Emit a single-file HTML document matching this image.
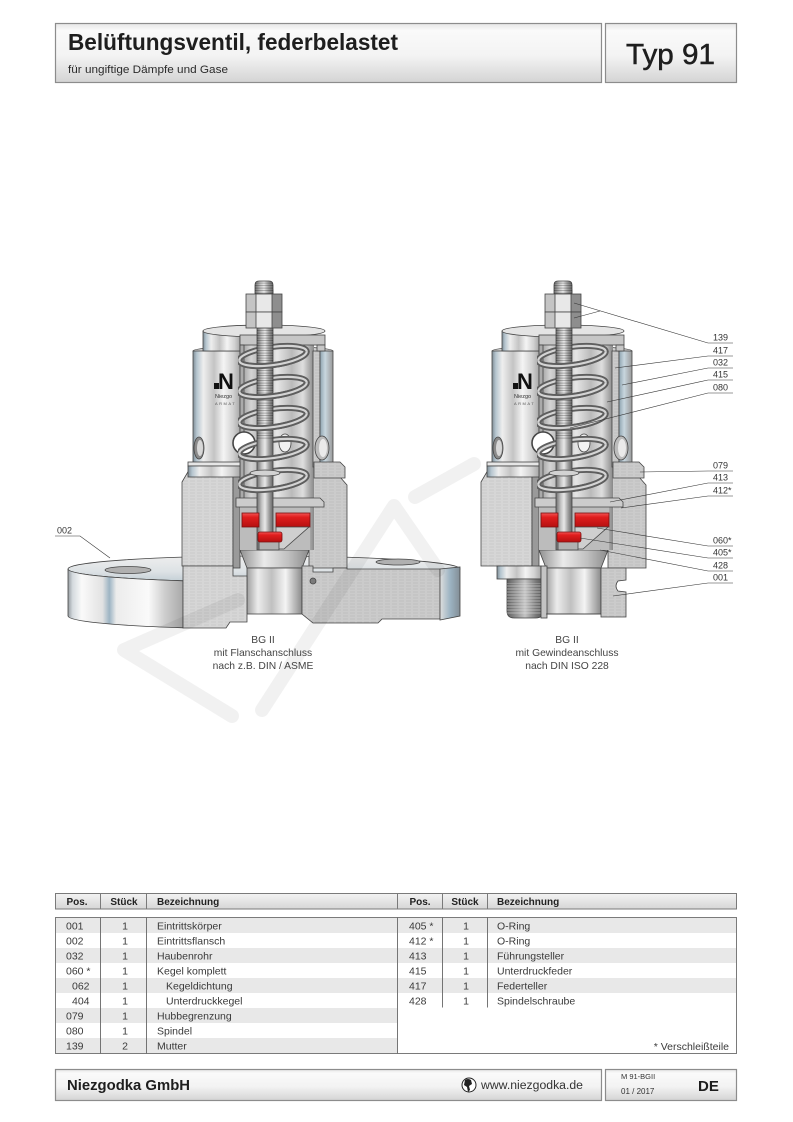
<!DOCTYPE html>
<html><head><meta charset="utf-8">
<style>
html,body{margin:0;padding:0;background:#fff;}
svg{display:block;}
text{font-family:"Liberation Sans",Arial,sans-serif;}
</style></head>
<body>
<svg width="793" height="1122" viewBox="0 0 793 1122" xmlns="http://www.w3.org/2000/svg">
<defs>
 <linearGradient id="gBox" x1="0" y1="0" x2="0" y2="1">
  <stop offset="0" stop-color="#e6e6e6"/><stop offset="0.12" stop-color="#fafafa"/>
  <stop offset="0.55" stop-color="#f3f3f3"/><stop offset="1" stop-color="#d4d4d4"/>
 </linearGradient>
 <linearGradient id="gHead" x1="0" y1="0" x2="0" y2="1">
  <stop offset="0" stop-color="#f3f3f3"/><stop offset="1" stop-color="#d6d6d6"/>
 </linearGradient>
 <linearGradient id="gCyl" x1="0" y1="0" x2="1" y2="0">
  <stop offset="0" stop-color="#7f8d96"/><stop offset="0.08" stop-color="#b5c5cf"/>
  <stop offset="0.22" stop-color="#eeeeee"/><stop offset="0.45" stop-color="#c4c4c4"/>
  <stop offset="0.65" stop-color="#f4f4f4"/><stop offset="0.85" stop-color="#d2d2d2"/>
  <stop offset="1" stop-color="#a8a8a8"/>
 </linearGradient>
 <linearGradient id="gCylR" x1="0" y1="0" x2="1" y2="0">
  <stop offset="0" stop-color="#8ea3b0"/><stop offset="0.4" stop-color="#c8d6de"/>
  <stop offset="1" stop-color="#999999"/>
 </linearGradient>
 <linearGradient id="gInner" x1="0" y1="0" x2="1" y2="0">
  <stop offset="0" stop-color="#909090"/><stop offset="0.15" stop-color="#d4d4d4"/>
  <stop offset="0.3" stop-color="#acacac"/><stop offset="0.5" stop-color="#e6e6e6"/>
  <stop offset="0.7" stop-color="#bababa"/><stop offset="0.85" stop-color="#dedede"/>
  <stop offset="1" stop-color="#888888"/>
 </linearGradient>
 <linearGradient id="gStem" x1="0" y1="0" x2="1" y2="0">
  <stop offset="0" stop-color="#6f6f6f"/><stop offset="0.3" stop-color="#c4c4c4"/>
  <stop offset="0.5" stop-color="#e8e8e8"/><stop offset="0.75" stop-color="#a0a0a0"/>
  <stop offset="1" stop-color="#666666"/>
 </linearGradient>
 <linearGradient id="gRed" x1="0" y1="0" x2="0" y2="1">
  <stop offset="0" stop-color="#f25656"/><stop offset="0.3" stop-color="#e01e1e"/>
  <stop offset="1" stop-color="#b51010"/>
 </linearGradient>
 <linearGradient id="gCone" x1="0" y1="0" x2="1" y2="0">
  <stop offset="0" stop-color="#909090"/><stop offset="0.35" stop-color="#eaeaea"/>
  <stop offset="0.7" stop-color="#c0c0c0"/><stop offset="1" stop-color="#8c8c8c"/>
 </linearGradient>
 <linearGradient id="gBore" x1="0" y1="0" x2="1" y2="0">
  <stop offset="0" stop-color="#a0a0a0"/><stop offset="0.2" stop-color="#ececec"/>
  <stop offset="0.45" stop-color="#c0c0c0"/><stop offset="0.7" stop-color="#f4f4f4"/>
  <stop offset="1" stop-color="#8a8a8a"/>
 </linearGradient>
 <linearGradient id="gTop" x1="0" y1="0" x2="0" y2="1">
  <stop offset="0" stop-color="#eeeeee"/><stop offset="0.6" stop-color="#dde2e5"/>
  <stop offset="1" stop-color="#c2ced5"/>
 </linearGradient>
 <linearGradient id="gFl" x1="0" y1="0" x2="1" y2="0">
  <stop offset="0" stop-color="#959ba0"/><stop offset="0.04" stop-color="#d4dade"/>
  <stop offset="0.12" stop-color="#fafafa"/><stop offset="0.3" stop-color="#e2e2e2"/>
  <stop offset="0.36" stop-color="#9db4c3"/><stop offset="0.42" stop-color="#ececec"/>
  <stop offset="0.7" stop-color="#fafafa"/><stop offset="0.85" stop-color="#cbcbcb"/>
  <stop offset="1" stop-color="#a9a9a9"/>
 </linearGradient>
 <linearGradient id="gFlR" x1="0" y1="0" x2="1" y2="0">
  <stop offset="0" stop-color="#dedede"/><stop offset="0.5" stop-color="#9db4c3"/>
  <stop offset="1" stop-color="#838e96"/>
 </linearGradient>
 <linearGradient id="gThread" x1="0" y1="0" x2="1" y2="0">
  <stop offset="0" stop-color="#5f5f5f"/><stop offset="0.3" stop-color="#9a9a9a"/>
  <stop offset="0.5" stop-color="#c4c4c4"/><stop offset="0.8" stop-color="#7a7a7a"/>
  <stop offset="1" stop-color="#555555"/>
 </linearGradient>
 <pattern id="pBrush" width="7" height="3" patternUnits="userSpaceOnUse">
  <rect width="7" height="3" fill="#cbcbcb"/>
  <line x1="0" y1="1" x2="5" y2="1" stroke="#bababa" stroke-width="0.7"/>
 </pattern>
 <pattern id="pFace" width="7" height="3" patternUnits="userSpaceOnUse">
  <rect width="7" height="3" fill="#d6d6d6"/>
  <line x1="1" y1="1" x2="6" y2="1" stroke="#c6c6c6" stroke-width="0.7"/>
 </pattern>
 <pattern id="pThread" width="4" height="2.5" patternUnits="userSpaceOnUse">
  <line x1="0" y1="0.6" x2="4" y2="0.6" stroke="#000" stroke-opacity="0.3" stroke-width="0.8"/>
 </pattern>
 <pattern id="pThreadL" width="4" height="3" patternUnits="userSpaceOnUse">
  <line x1="0" y1="1" x2="4" y2="1" stroke="#e8e8e8" stroke-opacity="0.55" stroke-width="0.9"/>
 </pattern>
 <clipPath id="clipSp"><rect x="238" y="340" width="76" height="158"/></clipPath>

 <g id="low" stroke="#444" stroke-width="0.8">
  <path d="M182,482 L189,470 L233,470 L233,566 L182,566 Z" fill="url(#pFace)"/>
  <rect x="233" y="470" width="7" height="98" fill="#9a9a9a"/>
  <path d="M309,477 L340,477 L347,485 L347,568 L309,568 Z" fill="url(#pBrush)"/>
  <path d="M240,550 L309,550 L302,568 L247,568 Z" fill="url(#gCone)"/>
  <rect x="247" y="568" width="55" height="46" fill="url(#gBore)"/>
 </g>

 <g id="up" stroke="#444" stroke-width="0.8">
  <ellipse cx="263" cy="351" rx="70" ry="5" fill="#d0d0d0"/>
  <rect x="240" y="345" width="74" height="205" fill="url(#gInner)" stroke="none"/>
  <rect x="240" y="506" width="70" height="44" fill="#bcbcbc" stroke="none"/>
  <rect x="193" y="351" width="47" height="116" fill="url(#gCyl)"/>
  <rect x="313" y="351" width="7" height="116" fill="url(#pBrush)"/>
  <rect x="320" y="351" width="13" height="116" fill="url(#gCylR)"/>
  <rect x="203" y="331" width="37" height="20" fill="url(#gCyl)"/>
  <ellipse cx="264" cy="331" rx="61" ry="6" fill="#e4e4e4"/>
  <rect x="240" y="335" width="85" height="10" fill="#c6c6c6"/>
  <rect x="317" y="345" width="8" height="6" fill="#c6c6c6"/>
  <rect x="240" y="345" width="4" height="160" fill="#aaaaaa"/>
  <ellipse cx="199" cy="448" rx="5" ry="11" fill="#8a8a8a"/>
  <ellipse cx="200" cy="448" rx="3" ry="8" fill="#d8d8d8" stroke="none"/>
  <ellipse cx="322" cy="448" rx="7" ry="12" fill="#bcbcbc"/>
  <ellipse cx="323" cy="448" rx="4" ry="9" fill="#eaeaea" stroke="none"/>
  <circle cx="244" cy="443" r="11" fill="#ffffff" stroke="#444" stroke-width="1.6"/>
  <ellipse cx="285" cy="443" rx="6" ry="9" fill="#f2f2f2"/>
  <path d="M236,498 L320,498 L324,502 L324,507 L236,507 Z" fill="#cccccc"/>
  <rect x="188" y="462" width="52" height="4" fill="#e6e6e6"/>
  <rect x="188" y="466" width="52" height="11" fill="url(#gCyl)"/>
  <path d="M314,462 L340,462 L345,467 L345,478 L314,478 Z" fill="url(#pBrush)"/>
  <g clip-path="url(#clipSp)" fill="none">
   <g stroke="#5e5e5e" stroke-width="6">
    <ellipse cx="273" cy="356" rx="34" ry="9" transform="rotate(-8 273 356)"/>
    <ellipse cx="273" cy="387" rx="34" ry="9" transform="rotate(-8 273 387)"/>
    <ellipse cx="273" cy="418" rx="34" ry="9" transform="rotate(-8 273 418)"/>
    <ellipse cx="273" cy="449" rx="34" ry="9" transform="rotate(-8 273 449)"/>
    <ellipse cx="273" cy="480" rx="34" ry="9" transform="rotate(-8 273 480)"/>
   </g>
   <g stroke="#d4d4d4" stroke-width="2.2">
    <ellipse cx="273" cy="356" rx="34" ry="9" transform="rotate(-8 273 356)"/>
    <ellipse cx="273" cy="387" rx="34" ry="9" transform="rotate(-8 273 387)"/>
    <ellipse cx="273" cy="418" rx="34" ry="9" transform="rotate(-8 273 418)"/>
    <ellipse cx="273" cy="449" rx="34" ry="9" transform="rotate(-8 273 449)"/>
    <ellipse cx="273" cy="480" rx="34" ry="9" transform="rotate(-8 273 480)"/>
   </g>
  </g>
  <rect x="257" y="290" width="16" height="260" fill="url(#gStem)"/>
  <rect x="257" y="290" width="16" height="150" fill="url(#pThread)" stroke="none"/>
  <ellipse cx="265" cy="473" rx="15" ry="3" fill="#d2d2d2"/>
  <g clip-path="url(#clipSp)" fill="none">
   <g stroke="#5e5e5e" stroke-width="6">
    <path d="M239,356 A34,9 0 0 0 307,356" transform="rotate(-8 273 356)"/>
    <path d="M239,387 A34,9 0 0 0 307,387" transform="rotate(-8 273 387)"/>
    <path d="M239,418 A34,9 0 0 0 307,418" transform="rotate(-8 273 418)"/>
    <path d="M239,449 A34,9 0 0 0 307,449" transform="rotate(-8 273 449)"/>
    <path d="M239,480 A34,9 0 0 0 307,480" transform="rotate(-8 273 480)"/>
   </g>
   <g stroke="#d4d4d4" stroke-width="2.2">
    <path d="M239,356 A34,9 0 0 0 307,356" transform="rotate(-8 273 356)"/>
    <path d="M239,387 A34,9 0 0 0 307,387" transform="rotate(-8 273 387)"/>
    <path d="M239,418 A34,9 0 0 0 307,418" transform="rotate(-8 273 418)"/>
    <path d="M239,449 A34,9 0 0 0 307,449" transform="rotate(-8 273 449)"/>
    <path d="M239,480 A34,9 0 0 0 307,480" transform="rotate(-8 273 480)"/>
   </g>
  </g>
  <rect x="242" y="513" width="17" height="14" fill="url(#gRed)" stroke="#7a1010"/>
  <rect x="276" y="513" width="34" height="14" fill="url(#gRed)" stroke="#7a1010"/>
  <path d="M276,527 L309,527 L284,549 L276,549 Z" fill="#cfcfcf"/>
  <rect x="259" y="541" width="20" height="9" fill="#b0b0b0"/>
  <rect x="258" y="532" width="24" height="10" rx="2" fill="url(#gRed)" stroke="#7a1010"/>
  <path d="M255,294 L255,285 Q255,281 259,281 L269,281 Q273,281 273,285 L273,294 Z" fill="url(#gStem)"/>
  <rect x="255" y="282" width="18" height="12" fill="url(#pThread)" stroke="none"/>
  <rect x="246" y="294" width="10" height="18" fill="#c4c4c4" stroke="none"/>
  <rect x="256" y="294" width="16" height="18" fill="#e8e8e8" stroke="none"/>
  <rect x="272" y="294" width="10" height="18" fill="#8e8e8e" stroke="none"/>
  <rect x="246" y="294" width="36" height="18" fill="none"/>
  <rect x="246" y="312" width="10" height="16" fill="#c4c4c4" stroke="none"/>
  <rect x="256" y="312" width="16" height="16" fill="#e8e8e8" stroke="none"/>
  <rect x="272" y="312" width="10" height="16" fill="#8e8e8e" stroke="none"/>
  <rect x="246" y="312" width="36" height="16" fill="none"/>
  <path d="M256,294 V328 M272,294 V328" fill="none"/>
 </g>
</defs>

<!-- Header -->
<rect x="55.5" y="23.5" width="546" height="59" fill="url(#gBox)" stroke="#8c8c8c" stroke-width="1.2"/>
<rect x="605.5" y="23.5" width="131" height="59" fill="url(#gBox)" stroke="#8c8c8c" stroke-width="1.2"/>
<text x="68" y="50" font-size="23.5" font-weight="bold" fill="#1e1e1e" textLength="330" lengthAdjust="spacingAndGlyphs">Belüftungsventil, federbelastet</text>
<text x="68" y="73" font-size="11" fill="#2a2a2a" textLength="160" lengthAdjust="spacingAndGlyphs">für ungiftige Dämpfe und Gase</text>
<text x="626" y="64" font-size="29" fill="#1e1e1e" stroke="#1e1e1e" stroke-width="0.5" textLength="89" lengthAdjust="spacingAndGlyphs">Typ 91</text>

<!-- LEFT VALVE -->
<ellipse cx="264" cy="569" rx="196" ry="13" fill="url(#gTop)" stroke="#444" stroke-width="0.8"/>
<ellipse cx="128" cy="570" rx="23" ry="3.5" fill="#b0b0b0" stroke="#444" stroke-width="0.8"/>
<ellipse cx="398" cy="562" rx="22" ry="3" fill="#b0b0b0" stroke="#444" stroke-width="0.8"/>
<use href="#low"/>
<use href="#up"/>
<g stroke="#444" stroke-width="0.8">
 <path d="M68,569 A196,13 0 0 0 183,580.8 L183,627.8 A196,13 0 0 1 68,616 Z" fill="url(#gFl)"/>
 <path d="M183,566 L233,566 L233,576 L247,576 L247,622 L230,622 L226,628 L183,628 Z" fill="url(#pFace)"/>
 <path d="M302,566 L313,566 L313,572 L333,572 L333,568 L347,568 L347,569 L440,569 L440,619 L382,619 L378,623 L313,623 L302,614 Z" fill="url(#pBrush)"/>
 <path d="M440,569 L460,567 L460,616 L440,620 Z" fill="url(#gFlR)"/>
 <circle cx="313" cy="581" r="3" fill="#7a7a7a"/>
</g>
<rect x="214" y="383" width="5" height="6" fill="#111"/>
<text x="218" y="389" font-size="22" font-weight="bold" fill="#111">N</text>
<text x="215" y="398" font-size="5.5" fill="#333">Niezgo</text>
<text x="215" y="405" font-size="4" fill="#555" letter-spacing="1.5">ARMAT</text>

<!-- RIGHT VALVE -->
<use href="#low" transform="translate(299,0)"/>
<use href="#up" transform="translate(299,0)"/>
<g stroke="#444" stroke-width="0.8">
 <rect x="497" y="566" width="44" height="13" fill="url(#gCyl)"/>
 <path d="M507,579 L543,579 L543,611 Q543,618 536,618 L514,618 Q507,618 507,611 Z" fill="url(#gThread)"/>
 <rect x="507" y="583" width="36" height="32" fill="url(#pThreadL)" stroke="none"/>
 <rect x="541" y="566" width="6" height="52" fill="#c4c4c4"/>
 <path d="M601,568 L626,568 L626,580 L618,581 Q614,586 618,591 L626,592 L626,617 L601,617 Z" fill="url(#pBrush)"/>
 <line x1="546" y1="614" x2="601" y2="614"/>
</g>
<rect x="513" y="383" width="5" height="6" fill="#111"/>
<text x="517" y="389" font-size="22" font-weight="bold" fill="#111">N</text>
<text x="514" y="398" font-size="5.5" fill="#333">Niezgo</text>
<text x="514" y="405" font-size="4" fill="#555" letter-spacing="1.5">ARMAT</text>

<!-- watermark -->
<g fill="none" stroke="#000" stroke-opacity="0.055" stroke-width="14" stroke-linecap="round" stroke-linejoin="round">
 <polyline points="238,600 124,650 232,716"/>
 <polyline points="262,710 394,506 438,570"/>
 <polyline points="415,497 474,464"/>
</g>

<!-- leader lines -->
<g stroke="#333" stroke-width="0.6" fill="none">
 <path d="M708,343 H733 M708,343 L574,303 M574,318 L600,311"/>
 <path d="M708,356 H733 M708,356 L615,368"/>
 <path d="M708,368 H733 M708,368 L622,385"/>
 <path d="M708,380 H733 M708,380 L607,402"/>
 <path d="M708,393 H733 M708,393 L570,428"/>
 <path d="M708,471 H733 M708,471 L640,472"/>
 <path d="M708,483 H733 M708,483 L610,502"/>
 <path d="M708,496 H733 M708,496 L621,508"/>
 <path d="M708,546 H733 M708,546 L597,528"/>
 <path d="M708,558 H733 M708,558 L580,538"/>
 <path d="M708,571 H733 M708,571 L600,550"/>
 <path d="M708,583 H733 M708,583 L613,596"/>
 <path d="M55,536 H80 L110,558"/>
</g>
<g font-size="9" fill="#333">
 <text x="713" y="340.5">139</text>
 <text x="713" y="353.5">417</text>
 <text x="713" y="365.5">032</text>
 <text x="713" y="377.5">415</text>
 <text x="713" y="390.5">080</text>
 <text x="713" y="468.5">079</text>
 <text x="713" y="480.5">413</text>
 <text x="713" y="493.5">412*</text>
 <text x="713" y="543.5">060*</text>
 <text x="713" y="555.5">405*</text>
 <text x="713" y="568.5">428</text>
 <text x="713" y="580.5">001</text>
 <text x="57" y="533.5">002</text>
</g>
<g font-size="10.3" fill="#444" text-anchor="middle">
 <text x="263" y="643">BG II</text>
 <text x="263" y="656">mit Flanschanschluss</text>
 <text x="263" y="669">nach z.B. DIN / ASME</text>
 <text x="567" y="643">BG II</text>
 <text x="567" y="656">mit Gewindeanschluss</text>
 <text x="567" y="669">nach DIN ISO 228</text>
</g>

<!-- TABLE -->
<rect x="55.5" y="893.5" width="681" height="15.5" fill="url(#gHead)" stroke="#7a7a7a" stroke-width="1"/>
<g stroke="#7a7a7a" stroke-width="1">
 <line x1="100.5" y1="893.5" x2="100.5" y2="909"/>
 <line x1="146.5" y1="893.5" x2="146.5" y2="909"/>
 <line x1="397.5" y1="893.5" x2="397.5" y2="909"/>
 <line x1="442.5" y1="893.5" x2="442.5" y2="909"/>
 <line x1="487.5" y1="893.5" x2="487.5" y2="909"/>
</g>
<g font-size="10" font-weight="bold" fill="#222">
 <text x="77" y="905" text-anchor="middle">Pos.</text>
 <text x="124" y="905" text-anchor="middle">Stück</text>
 <text x="157" y="905">Bezeichnung</text>
 <text x="420" y="905" text-anchor="middle">Pos.</text>
 <text x="465" y="905" text-anchor="middle">Stück</text>
 <text x="497" y="905">Bezeichnung</text>
</g>
<g fill="#e8e8e8">
 <rect x="56" y="918" width="341" height="15"/>
 <rect x="56" y="948" width="341" height="15"/>
 <rect x="56" y="978" width="341" height="15"/>
 <rect x="56" y="1008" width="341" height="15"/>
 <rect x="56" y="1038" width="341" height="15"/>
 <rect x="398" y="918" width="338" height="15"/>
 <rect x="398" y="948" width="338" height="15"/>
 <rect x="398" y="978" width="338" height="15"/>
</g>
<rect x="55.5" y="917.5" width="681" height="136" fill="none" stroke="#7a7a7a" stroke-width="1"/>
<g stroke="#666" stroke-width="0.9">
 <line x1="397.5" y1="917.5" x2="397.5" y2="1053.5"/>
 <line x1="100.5" y1="917.5" x2="100.5" y2="1053.5"/>
 <line x1="146.5" y1="917.5" x2="146.5" y2="1053.5"/>
 <line x1="442.5" y1="917.5" x2="442.5" y2="1007.5"/>
 <line x1="487.5" y1="917.5" x2="487.5" y2="1007.5"/>
</g>
<g font-size="10.5" fill="#3a3a3a">
 <text x="66" y="929.5">001</text><text x="125" y="929.5" text-anchor="middle">1</text><text x="157" y="929.5">Eintrittskörper</text>
 <text x="66" y="944.5">002</text><text x="125" y="944.5" text-anchor="middle">1</text><text x="157" y="944.5">Eintrittsflansch</text>
 <text x="66" y="959.5">032</text><text x="125" y="959.5" text-anchor="middle">1</text><text x="157" y="959.5">Haubenrohr</text>
 <text x="66" y="974.5">060 *</text><text x="125" y="974.5" text-anchor="middle">1</text><text x="157" y="974.5">Kegel komplett</text>
 <text x="72" y="989.5">062</text><text x="125" y="989.5" text-anchor="middle">1</text><text x="166" y="989.5">Kegeldichtung</text>
 <text x="72" y="1004.5">404</text><text x="125" y="1004.5" text-anchor="middle">1</text><text x="166" y="1004.5">Unterdruckkegel</text>
 <text x="66" y="1019.5">079</text><text x="125" y="1019.5" text-anchor="middle">1</text><text x="157" y="1019.5">Hubbegrenzung</text>
 <text x="66" y="1034.5">080</text><text x="125" y="1034.5" text-anchor="middle">1</text><text x="157" y="1034.5">Spindel</text>
 <text x="66" y="1049.5">139</text><text x="125" y="1049.5" text-anchor="middle">2</text><text x="157" y="1049.5">Mutter</text>

 <text x="409" y="929.5">405 *</text><text x="466" y="929.5" text-anchor="middle">1</text><text x="497" y="929.5">O-Ring</text>
 <text x="409" y="944.5">412 *</text><text x="466" y="944.5" text-anchor="middle">1</text><text x="497" y="944.5">O-Ring</text>
 <text x="409" y="959.5">413</text><text x="466" y="959.5" text-anchor="middle">1</text><text x="497" y="959.5">Führungsteller</text>
 <text x="409" y="974.5">415</text><text x="466" y="974.5" text-anchor="middle">1</text><text x="497" y="974.5">Unterdruckfeder</text>
 <text x="409" y="989.5">417</text><text x="466" y="989.5" text-anchor="middle">1</text><text x="497" y="989.5">Federteller</text>
 <text x="409" y="1004.5">428</text><text x="466" y="1004.5" text-anchor="middle">1</text><text x="497" y="1004.5">Spindelschraube</text>
 <text x="729" y="1050" text-anchor="end">* Verschleißteile</text>
</g>

<!-- FOOTER -->
<rect x="55.5" y="1069.5" width="546" height="31" fill="url(#gBox)" stroke="#8c8c8c" stroke-width="1.2"/>
<rect x="605.5" y="1069.5" width="131" height="31" fill="url(#gBox)" stroke="#8c8c8c" stroke-width="1.2"/>
<text x="67" y="1090" font-size="15" font-weight="bold" fill="#1e1e1e" textLength="123" lengthAdjust="spacingAndGlyphs">Niezgodka GmbH</text>
<circle cx="469" cy="1085" r="7" fill="#fff" stroke="#222" stroke-width="1"/>
<path d="M465,1080 Q468,1078 471,1080 L472,1084 L469,1086 L470,1090 L468,1092 L467,1087 L464,1085 Z" fill="#222"/>
<text x="481" y="1089" font-size="11.5" fill="#333" textLength="102" lengthAdjust="spacingAndGlyphs">www.niezgodka.de</text>
<text x="621" y="1079" font-size="7.5" fill="#333">M 91-BGII</text>
<text x="621" y="1094" font-size="8" fill="#333">01 / 2017</text>
<text x="698" y="1091" font-size="15" font-weight="bold" fill="#1e1e1e">DE</text>
</svg>
</body></html>
